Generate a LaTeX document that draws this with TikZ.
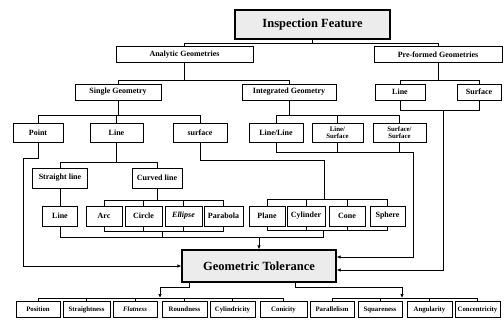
\documentclass[tikz,border=0pt]{standalone}
\usepackage{fontspec}
\setmainfont{Liberation Serif}
\usetikzlibrary{arrows.meta}

\tikzset{
  box/.style={draw, line width=0.9pt, inner sep=0pt, align=center,
    font=\bfseries\fontsize{8}{8}\selectfont},
  sz/.style 2 args={minimum width=#1pt, minimum height=#2pt},
  small/.style={font=\bfseries\fontsize{6.8}{6.8}\selectfont},
  shadebox/.style={box, fill=gray!15, line width=1.2pt},
  conn/.style={line width=0.7pt},
  arr/.style={conn, -{Latex[length=4pt,width=3.5pt]}}
}

\begin{document}
\begin{tikzpicture}[x=1pt, y=-1pt]
\useasboundingbox (0,0) rectangle (504,329);

\node[shadebox, sz={155}{29}, font=\bfseries\fontsize{12.5}{12.5}\selectfont] (feat) at (312.5,24.5) {Inspection Feature};

\node[box, sz={137}{16}] (ag) at (184.5,54.5) {Analytic Geometries};
\node[box, sz={128}{16}] (pg) at (438,54.5) {Pre-formed Geometries};

\node[box, sz={86}{16}] (sg) at (118,92) {Single Geometry};
\node[box, sz={94}{16}] (ig) at (289,92) {Integrated Geometry};
\node[box, sz={50}{16}] (pline) at (400,92) {Line};
\node[box, sz={44}{16}] (psurf) at (479,92) {Surface};

\node[box, sz={50}{19}] (point) at (38,133) {Point};
\node[box, sz={53}{19}] (line) at (116.5,133) {Line};
\node[box, sz={54}{19}] (surf) at (200,133) {surface};
\node[box, sz={54}{19}] (ll) at (276,133) {Line/Line};
\node[box, sz={51}{19}, small] (ls) at (337.5,133) {Line/\\Surface};
\node[box, sz={53}{19}, small] (ss) at (399.5,133) {Surface/\\Surface};

\node[box, sz={55}{20}] (sline) at (60,178) {Straight line};
\node[box, sz={50}{20}] (cline) at (157,178) {Curved line};

\node[box, sz={35}{20}] (line2) at (60,216) {Line};
\node[box, sz={36}{20}] (arc) at (104,216) {Arc};
\node[box, sz={37}{20}] (circ) at (143.5,216) {Circle};
\node[box, sz={37}{20}] (ell) at (183.5,216) {\itshape Ellipse};
\node[box, sz={39}{20}] (para) at (223.5,216) {Parabola};
\node[box, sz={36}{20}] (plane) at (267,216) {Plane};
\node[box, sz={38}{20}] (cyl) at (306,216) {Cylinder};
\node[box, sz={36}{20}] (cone) at (347,216) {Cone};
\node[box, sz={35}{20}] (sph) at (387.5,216) {Sphere};

\node[shadebox, sz={154}{32}, font=\bfseries\fontsize{12.5}{12.5}\selectfont] (gt) at (259,266) {Geometric Tolerance};

\node[box, sz={44}{16}, small] (pos) at (38,309.5) {Position};
\node[box, sz={47}{16}, small] (str) at (86.5,309.5) {Straightness};
\node[box, sz={44}{16}, small] (flat) at (135,309.5) {\itshape Flatness};
\node[box, sz={45}{16}, small] (round) at (184.5,309.5) {Roundness};
\node[box, sz={45}{16}, small] (cyl2) at (232.5,309.5) {Cylindricity};
\node[box, sz={47}{16}, small] (con) at (283.5,309.5) {Conicity};
\node[box, sz={44}{16}, small] (par) at (332,309.5) {Parallelism};
\node[box, sz={44}{16}, small] (sq) at (380,309.5) {Squareness};
\node[box, sz={45}{16}, small] (ang) at (429.5,309.5) {Angularity};
\node[box, sz={45}{16}, small] (conc) at (477.5,309.5) {Concentricity};

\coordinate (qs) at (324,199);
\coordinate (qc) at (162,231);
\coordinate (qp) at (323,230);
\coordinate (qm) at (259,237);
\coordinate (qi) at (413,152);
\coordinate (qf) at (443,110);
\coordinate (qt) at (23,158);
\coordinate (ql) at (160,298);
\coordinate (qr) at (402,298);

\draw[conn] (feat.south) -- ++(0,4) -| (ag.north);
\draw[conn] (feat.south) -- ++(0,4) -| (pg.north);
\draw[conn] (ag.south) -- ++(0,17) -| (sg.north);
\draw[conn] (ag.south) -- ++(0,17) -| (ig.north);
\draw[conn] (pg.south) -- ++(0,17) -| (pline.north);
\draw[conn] (pg.south) -- ++(0,17) -| (psurf.north);
\foreach \n in {point,line,surf} \draw[conn] (sg.south) -- ++(0,15) -| (\n.north);
\foreach \n in {ll,ls,ss} \draw[conn] (ig.south) -- ++(0,15) -| (\n.north);
\foreach \n in {sline,cline} \draw[conn] (line.south) -- ++(0,19) -| (\n.north);
\draw[conn] (sline) -- (line2);
\foreach \n in {arc,circ,ell,para} \draw[conn] (cline.south) -- ++(0,12) -| (\n.north);
\draw[conn] (surf.south) -- ++(0,17.5) -| (qs);
\foreach \n in {plane,cyl,cone,sph} \draw[conn] (qs) -| (\n.north);

\foreach \n in {arc,circ,ell,para} \draw[conn] (\n.south) |- (qc);
\foreach \n in {plane,cyl,cone,sph} \draw[conn] (\n.south) |- (qp);
\draw[conn] (line2.south) |- (qm);
\draw[conn] (qc) |- (qm);
\draw[conn] (qp) |- (qm);
\draw[arr] (qm) -- (gt.north);

\foreach \n in {ll,ls,ss} \draw[conn] (\n.south) |- (qi);
\draw[arr] (qi) |- ([yshift=9pt]gt.east);
\foreach \n in {pline,psurf} \draw[conn] (\n.south) |- (qf);
\draw[arr] (qf) |- ([yshift=-4pt]gt.east);
\draw[conn] (point.south) |- (qt);
\draw[arr] (qt) |- (gt.west);

\draw[arr] ([xshift=-70pt]gt.south) -- ++(0,5) -| (ql);
\draw[arr] ([xshift=36pt]gt.south) -- ++(0,5) -| (qr);
\foreach \n in {pos,str,flat,round,cyl2,con} \draw[conn] (ql) -| (\n.north);
\foreach \n in {par,sq,ang,conc} \draw[conn] (qr) -| (\n.north);
\end{tikzpicture}
\end{document}
